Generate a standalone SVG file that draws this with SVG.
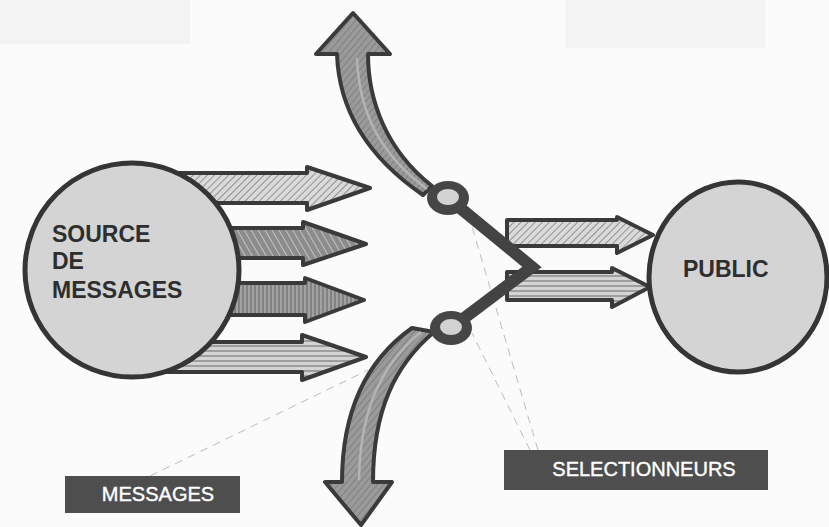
<svg xmlns="http://www.w3.org/2000/svg" width="829" height="527" viewBox="0 0 829 527">
  <style>
    .outline { stroke: #3a3a3a; stroke-width: 4; stroke-linejoin: round; }
    .circle { fill: #d4d4d4; stroke: #353535; stroke-width: 5; }
    .big { font-family: "Liberation Sans", Arial, sans-serif; font-weight: bold; font-size: 23px; fill: #2e2e2e; }
    .tag { fill: #4e4e4e; }
    .tagtext { font-family: "Liberation Sans", Arial, sans-serif; font-size: 20px; fill: #ffffff; stroke: #ffffff; stroke-width: 0.4; text-anchor: middle; }
    .leader { fill: none; stroke: #bcbcbc; stroke-width: 1; stroke-dasharray: 8 6; }
    .arm { fill: none; stroke: #434343; stroke-width: 12; stroke-linejoin: miter; stroke-linecap: round; }
    .ring { fill: #464646; }
    .hole { fill: #d2d2d2; }
  </style>
  <defs>
    <pattern id="hatchLight" width="5" height="5" patternUnits="userSpaceOnUse" patternTransform="rotate(45)">
      <rect width="5" height="5" fill="#dadada"/>
      <line x1="0" y1="0" x2="0" y2="5" stroke="#8a8a8a" stroke-width="1.8"/>
    </pattern>
    <pattern id="hatchDark" width="6" height="6" patternUnits="userSpaceOnUse" patternTransform="rotate(-30)">
      <rect width="6" height="6" fill="#8c8c8c"/>
      <line x1="0" y1="0" x2="0" y2="6" stroke="#c2c2c2" stroke-width="2"/>
    </pattern>
    <pattern id="vStripes" width="4" height="4" patternUnits="userSpaceOnUse">
      <rect width="4" height="4" fill="#828282"/>
      <line x1="1" y1="0" x2="1" y2="4" stroke="#b0b0b0" stroke-width="1.4"/>
    </pattern>
    <pattern id="hStripes" width="5" height="5" patternUnits="userSpaceOnUse">
      <rect width="5" height="5" fill="#d4d4d4"/>
      <line x1="0" y1="1" x2="5" y2="1" stroke="#8c8c8c" stroke-width="1.5"/>
    </pattern>
    <pattern id="hatchCurve" width="5" height="5" patternUnits="userSpaceOnUse" patternTransform="rotate(40)">
      <rect width="5" height="5" fill="#9a9a9a"/>
      <line x1="0" y1="0" x2="0" y2="5" stroke="#7a7a7a" stroke-width="1.6"/>
    </pattern>
  </defs>

  <rect width="829" height="527" fill="#fbfbfb"/>
  <rect x="0" y="0" width="190" height="44" fill="#f3f3f3"/>
  <rect x="565" y="0" width="200" height="48" fill="#f3f3f3"/>

  <g id="connectors">
    <!-- leader lines from the labels -->
    <path class="leader" d="M150,476 L368,370"/>
    <path class="leader" d="M538,450 L470,220"/>
    <path class="leader" d="M530,450 L472,333"/>

    <!-- four message arrows leaving the source -->
    <path class="outline" fill="url(#hatchLight)" d="M150,173 L307,173 L307,167 L370,188 L307,210 L307,203 L150,203 Z"/>
    <path class="outline" fill="url(#hatchDark)" d="M150,228 L303,228 L303,222 L366,244 L303,265 L303,258 L150,258 Z"/>
    <path class="outline" fill="url(#vStripes)" d="M150,283 L305,283 L305,278 L364,300 L305,322 L305,315 L150,315 Z"/>
    <path class="outline" fill="url(#hStripes)" d="M150,342 L302,342 L302,335 L366,357 L302,380 L302,372 L150,372 Z"/>

    <!-- rejected messages: curved arrows -->
    <path class="outline" fill="url(#hatchCurve)" d="M353,13 L390,54 L368,54 C368,100 386,150 432,186 L423,195 C372,160 339,115 337,54 L316,54 Z"/>
    <path d="M357,58 C359,110 378,153 427,189" fill="none" stroke="#b4b4b4" stroke-width="2.5"/>
    <path class="outline" fill="url(#hatchCurve)" d="M434,332 C395,365 373,410 373,482 L392,482 L361,525 L325,482 L342,482 C342,420 360,365 412,328 Z"/>
    <path d="M421,332 C378,367 360,415 359,480" fill="none" stroke="#b4b4b4" stroke-width="2.5"/>

    <!-- selected messages toward the public -->
    <path class="outline" fill="url(#hatchLight)" d="M507,220 L617,220 L617,217 L653,235 L617,253 L617,246 L507,246 Z"/>
    <path class="outline" fill="url(#hStripes)" d="M507,272 L612,272 L612,268 L650,287 L612,307 L612,300 L507,300 Z"/>
  </g>

  <g id="source">
    <circle class="circle" cx="132" cy="270" r="107"/>
    <text class="big" x="52" y="242">SOURCE</text>
    <text class="big" x="52" y="269">DE</text>
    <text class="big" x="52" y="298">MESSAGES</text>
  </g>

  <g id="selector">
    <path class="arm" d="M448,198 L532,267 L451,328"/>
    <ellipse class="ring" cx="448" cy="198" rx="21" ry="17"/>
    <ellipse class="hole" cx="448" cy="197" rx="11" ry="8"/>
    <ellipse class="ring" cx="451" cy="328" rx="21" ry="17"/>
    <ellipse class="hole" cx="451" cy="327" rx="11" ry="8"/>
  </g>

  <g id="public">
    <ellipse class="circle" cx="738" cy="277" rx="89" ry="95"/>
    <text class="big" x="683" y="277">PUBLIC</text>
  </g>

  <g id="label-messages">
    <rect class="tag" x="65" y="476" width="175" height="37"/>
    <text class="tagtext" x="158" y="501">MESSAGES</text>
  </g>

  <g id="label-selectionneurs">
    <rect class="tag" x="504" y="450" width="264" height="40"/>
    <text class="tagtext" x="644" y="476">SELECTIONNEURS</text>
  </g>
</svg>
